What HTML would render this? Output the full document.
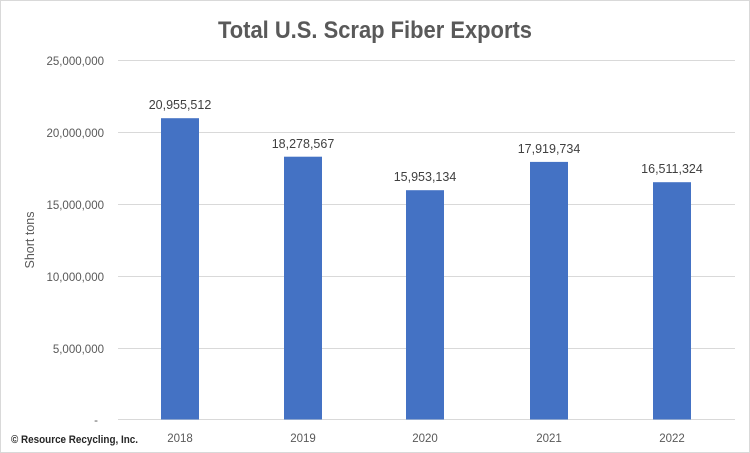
<!DOCTYPE html>
<html><head><meta charset="utf-8"><style>
body{margin:0;background:#fff;}
svg{display:block;font-family:"Liberation Sans",sans-serif;}
</style></head><body>
<svg width="750" height="453" xmlns="http://www.w3.org/2000/svg">
<rect x="0.5" y="0.5" width="749" height="452" fill="#fff" stroke="#d9d9d9"/>
<text x="375" y="38" text-anchor="middle" font-size="24" font-weight="bold" fill="#595959" textLength="314" lengthAdjust="spacingAndGlyphs">Total U.S. Scrap Fiber Exports</text>
<g stroke="#d9d9d9" stroke-width="1">
<line x1="118" x2="735" y1="60.5" y2="60.5"/>
<line x1="118" x2="735" y1="132.5" y2="132.5"/>
<line x1="118" x2="735" y1="204.5" y2="204.5"/>
<line x1="118" x2="735" y1="276.5" y2="276.5"/>
<line x1="118" x2="735" y1="348.5" y2="348.5"/>
<line x1="118" x2="735" y1="419.5" y2="419.5"/>
</g>
<g font-size="11.5" fill="#595959" text-anchor="end">
<text x="104" y="65">25,000,000</text>
<text x="104" y="137">20,000,000</text>
<text x="104" y="209">15,000,000</text>
<text x="104" y="281">10,000,000</text>
<text x="104" y="353">5,000,000</text>
<text x="98" y="424">-</text>
</g>
<text transform="translate(34,240) rotate(-90)" text-anchor="middle" font-size="12.5" fill="#595959">Short tons</text>
<g fill="#4472c4">
<rect x="161" y="118.2" width="38" height="301.3"/>
<rect x="284" y="156.7" width="38" height="262.8"/>
<rect x="406" y="190.2" width="38" height="229.3"/>
<rect x="530" y="161.9" width="38" height="257.6"/>
<rect x="653" y="182.2" width="38" height="237.3"/>
</g>
<g font-size="12.5" fill="#404040" text-anchor="middle">
<text x="180" y="109">20,955,512</text>
<text x="303" y="148">18,278,567</text>
<text x="425" y="181">15,953,134</text>
<text x="549" y="153">17,919,734</text>
<text x="672" y="173">16,511,324</text>
</g>
<g font-size="11.5" fill="#595959" text-anchor="middle">
<text x="180" y="442">2018</text>
<text x="303" y="442">2019</text>
<text x="425" y="442">2020</text>
<text x="549" y="442">2021</text>
<text x="672" y="442">2022</text>
</g>
<text x="11" y="443" font-size="11" font-weight="bold" fill="#262626" textLength="127" lengthAdjust="spacingAndGlyphs">© Resource Recycling, Inc.</text>
</svg>
</body></html>
